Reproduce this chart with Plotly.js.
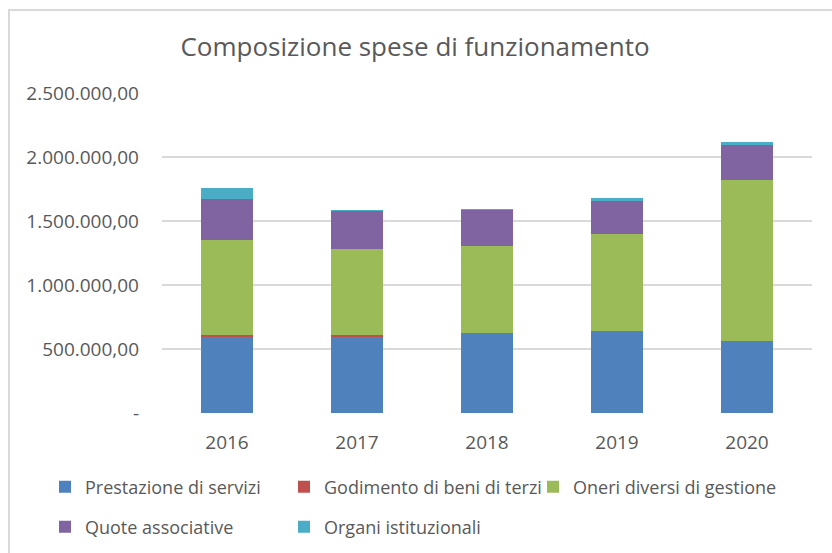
<!DOCTYPE html>
<html>
<head>
<meta charset="utf-8">
<script src="https://cdn.plot.ly/plotly-3.0.1.min.js"></script>
<style>
  html, body { margin: 0; padding: 0; background: #ffffff; }
  #wrap { position: relative; width: 832px; height: 553px; overflow: hidden; }
  #frame { position: absolute; left: 8px; top: 9px; width: 900px; height: 700px;
           border-left: 2px solid #d9d9d9; border-top: 2px solid #d9d9d9; pointer-events: none; }
  #chart { position: absolute; left: 0; top: 0; width: 832px; height: 553px; }
</style>
</head>
<body>
<div id="wrap">
  <div id="chart"></div>
  <div id="frame"></div>
</div>
<script>
const years = ['2016', '2017', '2018', '2019', '2020'];
const prestazioneServizi = [591000, 593000, 625000, 643000, 565000];
const godimentoBeni = [20000, 18000, 0, 0, 0];
const oneriDiversi = [740000, 670000, 682000, 753000, 1255000];
const quoteAssociative = [318000, 297000, 279000, 263000, 273000];
const organiIstituzionali = [86000, 8000, 5000, 18000, 26000];

const seriesNames = ['Prestazione di servizi', 'Godimento di beni di terzi', 'Oneri diversi di gestione',
                     'Quote associative', 'Organi istituzionali'];
const yTickValues = [0, 500000, 1000000, 1500000, 2000000, 2500000];
const yTickLabels = ['-', '500.000,00', '1.000.000,00', '1.500.000,00', '2.000.000,00', '2.500.000,00'];

const colors = ['#4f81bd', '#c0504d', '#9bbb59', '#8064a2', '#4bacc6'];
const seriesValues = [prestazioneServizi, godimentoBeni, oneriDiversi, quoteAssociative, organiIstituzionali];
const legendIds = ['legend', 'legend2', 'legend3', 'legend4', 'legend5'];
// legend entry placement (px in the 832x553 container)
const legendLeft = [45, 284, 533, 45, 284];
const legendMidY = [487, 487, 487, 527, 527];

const textColor = '#595959';
const font = 'Open Sans, DejaVu Sans, sans-serif';

const traces = seriesValues.map((vals, i) => ({
  type: 'bar',
  name: seriesNames[i],
  x: years,
  y: vals,
  marker: { color: colors[i], line: { width: 0 } },
  legend: legendIds[i],
  hoverinfo: 'skip'
}));

const W = 832, H = 553;
const plotLeft = 162, plotRight = 812, plotTop = 93, plotBottom = 413;

const layout = {
  width: W,
  height: H,
  margin: { l: plotLeft, r: W - plotRight, t: plotTop, b: H - plotBottom, pad: 0, autoexpand: false },
  paper_bgcolor: 'rgba(0,0,0,0)',
  plot_bgcolor: 'rgba(0,0,0,0)',
  barmode: 'stack',
  bargap: 0.6,
  showlegend: true,
  title: {
    text: 'Composizione spese di funzionamento',
    font: { family: font, size: 26, color: textColor },
    x: 415 / W, xref: 'container', xanchor: 'center',
    y: 1 - 47 / H, yref: 'container', yanchor: 'middle'
  },
  xaxis: {
    type: 'category',
    showgrid: false,
    showline: false,
    zeroline: false,
    ticks: '',
    ticklabelstandoff: 16,
    tickfont: { family: font, size: 19, color: textColor }
  },
  yaxis: {
    range: [0, 2500000],
    tickvals: yTickValues,
    ticktext: yTickLabels,
    showgrid: true,
    gridcolor: '#d9d9d9',
    gridwidth: 1.5,
    zeroline: false,
    showline: false,
    ticks: '',
    ticklabelstandoff: 22,
    tickfont: { family: font, size: 19, color: textColor }
  }
};

legendIds.forEach((id, i) => {
  layout[id] = {
    orientation: 'h',
    xref: 'container',
    yref: 'container',
    xanchor: 'left',
    yanchor: 'middle',
    x: legendLeft[i] / W,
    y: 1 - legendMidY[i] / H,
    font: { family: font, size: 18, color: textColor },
    itemclick: false,
    itemdoubleclick: false,
    bgcolor: 'rgba(0,0,0,0)'
  };
});

Plotly.newPlot('chart', traces, layout, { displayModeBar: false, staticPlot: true });
</script>
</body>
</html>
